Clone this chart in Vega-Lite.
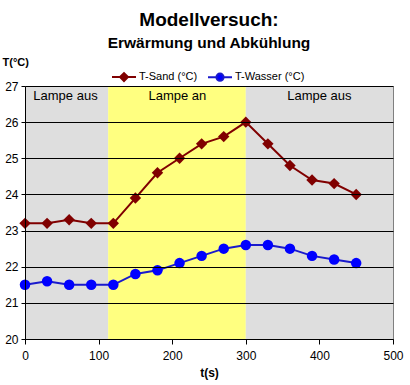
{
  "$schema": "https://vega.github.io/schema/vega-lite/v6.json",
  "width": 368,
  "height": 253,
  "autosize": {"type": "none"},
  "padding": {"left": 25, "top": 86, "right": 17, "bottom": 46},
  "background": "white",
  "config": {
    "font": "Liberation Sans",
    "view": {"stroke": "#808080", "strokeWidth": 1},
    "axis": {"labelFont": "Liberation Sans", "titleFont": "Liberation Sans"}
  },
  "title": {
    "text": "Modellversuch:",
    "subtitle": "Erwärmung und Abkühlung",
    "fontSize": 19,
    "subtitleFontSize": 15.5,
    "subtitleFontWeight": "bold",
    "subtitleColor": "black",
    "color": "black",
    "fontWeight": "bold",
    "subtitlePadding": 6,
    "anchor": "middle",
    "offset": 5
  },
  "datasets": {
    "zones": [
      {"t": 0, "end": 113, "zone": "aus1"},
      {"t": 113, "end": 300, "zone": "an"},
      {"t": 300, "end": 500, "zone": "aus2"}
    ],
    "labels": [
      {"t": 55, "T": 26.72, "label": "Lampe aus"},
      {"t": 207, "T": 26.72, "label": "Lampe an"},
      {"t": 400, "T": 26.72, "label": "Lampe aus"}
    ],
    "temps": [
      {"t": 0, "series": "T-Sand (°C)", "T": 23.2},
      {"t": 30, "series": "T-Sand (°C)", "T": 23.2},
      {"t": 60, "series": "T-Sand (°C)", "T": 23.3},
      {"t": 90, "series": "T-Sand (°C)", "T": 23.2},
      {"t": 120, "series": "T-Sand (°C)", "T": 23.2},
      {"t": 150, "series": "T-Sand (°C)", "T": 23.9},
      {"t": 180, "series": "T-Sand (°C)", "T": 24.6},
      {"t": 210, "series": "T-Sand (°C)", "T": 25.0},
      {"t": 240, "series": "T-Sand (°C)", "T": 25.4},
      {"t": 270, "series": "T-Sand (°C)", "T": 25.6},
      {"t": 300, "series": "T-Sand (°C)", "T": 26.0},
      {"t": 330, "series": "T-Sand (°C)", "T": 25.4},
      {"t": 360, "series": "T-Sand (°C)", "T": 24.8},
      {"t": 390, "series": "T-Sand (°C)", "T": 24.4},
      {"t": 420, "series": "T-Sand (°C)", "T": 24.3},
      {"t": 450, "series": "T-Sand (°C)", "T": 24.0},
      {"t": 0, "series": "T-Wasser (°C)", "T": 21.5},
      {"t": 30, "series": "T-Wasser (°C)", "T": 21.6},
      {"t": 60, "series": "T-Wasser (°C)", "T": 21.5},
      {"t": 90, "series": "T-Wasser (°C)", "T": 21.5},
      {"t": 120, "series": "T-Wasser (°C)", "T": 21.5},
      {"t": 150, "series": "T-Wasser (°C)", "T": 21.8},
      {"t": 180, "series": "T-Wasser (°C)", "T": 21.9},
      {"t": 210, "series": "T-Wasser (°C)", "T": 22.1},
      {"t": 240, "series": "T-Wasser (°C)", "T": 22.3},
      {"t": 270, "series": "T-Wasser (°C)", "T": 22.5},
      {"t": 300, "series": "T-Wasser (°C)", "T": 22.6},
      {"t": 330, "series": "T-Wasser (°C)", "T": 22.6},
      {"t": 360, "series": "T-Wasser (°C)", "T": 22.5},
      {"t": 390, "series": "T-Wasser (°C)", "T": 22.3},
      {"t": 420, "series": "T-Wasser (°C)", "T": 22.2},
      {"t": 450, "series": "T-Wasser (°C)", "T": 22.1}
    ]
  },
  "encoding": {
    "x": {
      "field": "t", "type": "quantitative",
      "scale": {"domain": [0, 500], "nice": false},
      "axis": {
        "values": [0, 100, 200, 300, 400, 500],
        "title": "t(s)", "titleFontSize": 12, "titleFontWeight": "bold", "titleColor": "black",
        "titlePadding": 6, "zindex": 1,
        "labelFontSize": 12, "labelColor": "black", "labelPadding": 6,
        "grid": false, "domainColor": "black", "tickColor": "black", "tickSize": 5,
        "labelFlush": false, "labelOverlap": false
      }
    },
    "y": {
      "field": "T", "type": "quantitative",
      "scale": {"domain": [20, 27], "nice": false, "zero": false},
      "axis": {
        "values": [20, 21, 22, 23, 24, 25, 26, 27], "zindex": 1,
        "title": "T(°C)", "titleAngle": 0, "titleAlign": "left", "titleBaseline": "middle",
        "titleX": -23, "titleY": -24, "titleFontSize": 11, "titleFontWeight": "bold", "titleColor": "black",
        "labelFontSize": 12, "labelColor": "black", "labelPadding": 3, "labelOverlap": false,
        "grid": true, "gridColor": "black", "gridWidth": 1, "gridOpacity": 1,
        "domainColor": "black", "tickColor": "black", "tickSize": 4
      }
    }
  },
  "resolve": {"scale": {"color": "independent"}},
  "layer": [
    {
      "data": {"name": "zones"},
      "mark": {"type": "rect"},
      "encoding": {
        "y": null,
        "x2": {"field": "end"},
        "color": {
          "field": "zone", "type": "nominal",
          "scale": {"domain": ["aus1", "an", "aus2"], "range": ["#dedede", "#ffff80", "#dedede"]},
          "legend": null
        }
      }
    },
    {
      "data": {"name": "temps"},
      "mark": {"type": "line", "strokeWidth": 2},
      "encoding": {
        "color": {
          "field": "series", "type": "nominal",
          "scale": {"domain": ["T-Sand (°C)", "T-Wasser (°C)"], "range": ["#800000", "#1a1acc"]},
          "legend": {
            "orient": "none", "direction": "horizontal", "title": null,
            "legendX": 86, "legendY": -22,
            "labelFontSize": 11, "labelColor": "black", "labelFont": "Liberation Sans",
            "symbolSize": 576, "symbolStrokeWidth": 2, "columnPadding": 6, "labelOffset": 2,
            "encode": {
              "symbols": {
                "update": {
                  "shape": {"signal": "datum.value == 'T-Sand (°C)' ? 'M-1,0H-0.33L0,-0.33L0.33,0H1M0.33,0L0,0.33L-0.33,0' : 'M-1,0H-0.3A0.3,0.3,0,1,1,0.3,0H1M0.3,0A0.3,0.3,0,1,1,-0.3,0'"},
                  "fill": {"signal": "datum.value == 'T-Sand (°C)' ? '#800000' : '#0000ff'"},
                  "strokeWidth": {"value": 2}
                }
              }
            }
          }
        }
      }
    },
    {
      "data": {"name": "labels"},
      "mark": {"type": "text", "fontSize": 13, "font": "Liberation Sans", "color": "black", "baseline": "middle"},
      "encoding": {
        "text": {"field": "label"}
      }
    },
    {
      "data": {"name": "temps"},
      "transform": [{"filter": "datum.series == 'T-Sand (°C)'"}],
      "mark": {"type": "point", "filled": true, "opacity": 1, "shape": "diamond", "size": 130, "color": "#800000"},
      "encoding": {}
    },
    {
      "data": {"name": "temps"},
      "transform": [{"filter": "datum.series == 'T-Wasser (°C)'"}],
      "mark": {"type": "point", "filled": true, "opacity": 1, "shape": "circle", "size": 110, "color": "#0000ff"},
      "encoding": {}
    }
  ]
}
